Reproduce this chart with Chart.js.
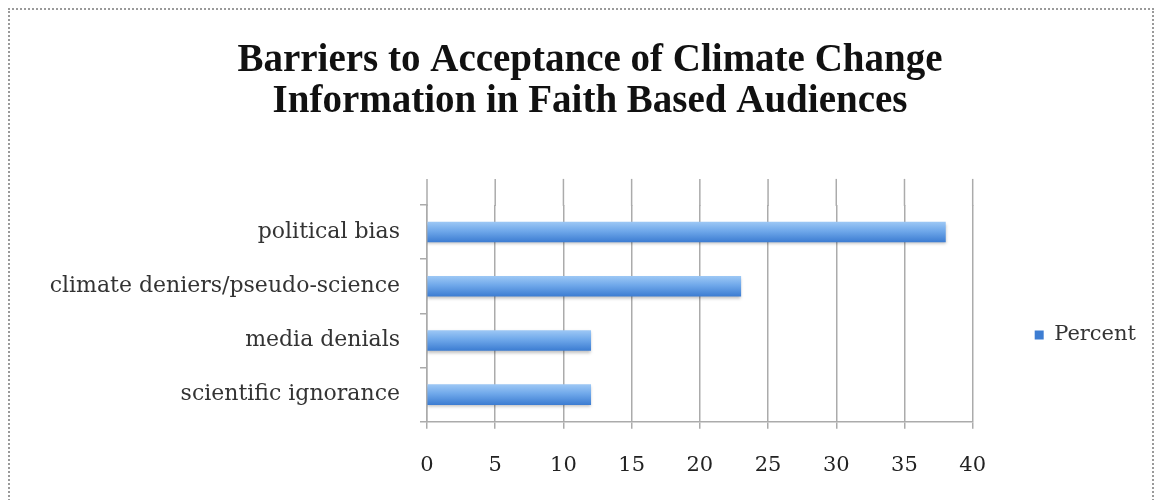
<!DOCTYPE html>
<html>
<head>
<meta charset="utf-8">
<script src="https://cdn.jsdelivr.net/npm/chart.js@4"></script>
<style>
  body { margin: 0; background: #fff; }
  #wrap { position: relative; width: 1160px; height: 500px; }
  #frame { position: absolute; left: 8px; top: 8px; width: 1142px; height: 520px;
           border: 2px dotted #9a9a9a; pointer-events: none; }
</style>
</head>
<body>
<div id="wrap">
  <canvas id="barriers" width="1160" height="500"></canvas>
  <div id="frame"></div>
</div>
<script>
// data
var categories = ['political bias', 'climate deniers/pseudo-science', 'media denials', 'scientific ignorance'];
var percent = [38, 23, 12, 12];
var xMin = 0, xMax = 40, xStep = 5;

var titleFont = "'Liberation Serif', serif";
var serif = "'DejaVu Serif', 'Liberation Serif', serif";
var gridColor = '#ababab';

// bar fill: light on top, darker at the bottom
function barFill(c) {
  var chart = c.chart;
  if (typeof c.dataIndex !== 'number' || !chart.chartArea || !chart.scales.y) return '#5d93dc';
  var mid = chart.scales.y.getPixelForValue(c.dataIndex);
  var g = chart.ctx.createLinearGradient(0, mid - 10, 0, mid + 10);
  g.addColorStop(0, '#9cc7f5');
  g.addColorStop(0.45, '#6fa8ea');
  g.addColorStop(1, '#3d7dd2');
  return g;
}

// the excel plot frame runs a little above the first category band
var gridExtend = {
  id: 'gridExtend',
  beforeDatasetsDraw: function (chart) {
    var ctx = chart.ctx, x = chart.scales.x, top = chart.chartArea.top;
    ctx.save();
    ctx.strokeStyle = gridColor;
    ctx.lineWidth = 1.5;
    x.ticks.forEach(function (t) {
      var px = x.getPixelForValue(t.value);
      ctx.beginPath();
      ctx.moveTo(px, top - 26);
      ctx.lineTo(px, top + 1);
      ctx.stroke();
    });
    ctx.restore();
  }
};

// soft drop shadow under the bars
var barShadow = {
  id: 'barShadow',
  beforeDatasetsDraw: function (chart) {
    var ctx = chart.ctx;
    ctx.save();
    ctx.shadowColor = 'rgba(0,0,0,0.25)';
    ctx.shadowBlur = 3;
    ctx.shadowOffsetY = 2;
  },
  afterDatasetsDraw: function (chart) { chart.ctx.restore(); }
};

var ctx = document.getElementById('barriers').getContext('2d');
var chart = new Chart(ctx, {
  type: 'bar',
  data: {
    labels: categories,
    datasets: [{
      label: 'Percent',
      data: percent,
      backgroundColor: barFill,
      borderWidth: 0,
      barThickness: 20
    }]
  },
  plugins: [gridExtend, barShadow],
  options: {
    indexAxis: 'y',
    responsive: false,
    animation: false,
    layout: { padding: { top: 40, right: 14, bottom: -2, left: 34 } },
    scales: {
      x: {
        min: xMin, max: xMax,
        ticks: { stepSize: xStep, color: '#222', padding: 24, font: { family: serif, size: 21 } },
        grid: { color: gridColor, lineWidth: 1.5, tickLength: 7 },
        border: { color: gridColor, width: 1.5 }
      },
      y: {
        ticks: { color: '#333', padding: 20, font: { family: serif, size: 22 } },
        grid: { drawOnChartArea: false, color: gridColor, lineWidth: 1.5, tickLength: 7 },
        border: { color: gridColor, width: 1.5 },
        afterFit: function (s) { s.width = 393; }
      },
      gap: {
        type: 'linear',
        position: 'right',
        display: true,
        ticks: { display: false },
        grid: { display: false },
        border: { display: false },
        afterFit: function (s) { s.width = 52; }
      }
    },
    plugins: {
      title: {
        display: true,
        text: ['Barriers to Acceptance of Climate Change', 'Information in Faith Based Audiences'],
        color: '#111',
        font: { family: titleFont, size: 39, weight: 'bold', lineHeight: 1.05 },
        padding: { top: 0, bottom: 83 }
      },
      legend: {
        position: 'right',
        title: { display: true, text: '', padding: 52, font: { size: 20 } },
        labels: {
          boxWidth: 9, boxHeight: 9, padding: 10, color: '#333',
          font: { family: serif, size: 21 }
        }
      },
      tooltip: { enabled: false }
    }
  }
});
</script>
</body>
</html>
